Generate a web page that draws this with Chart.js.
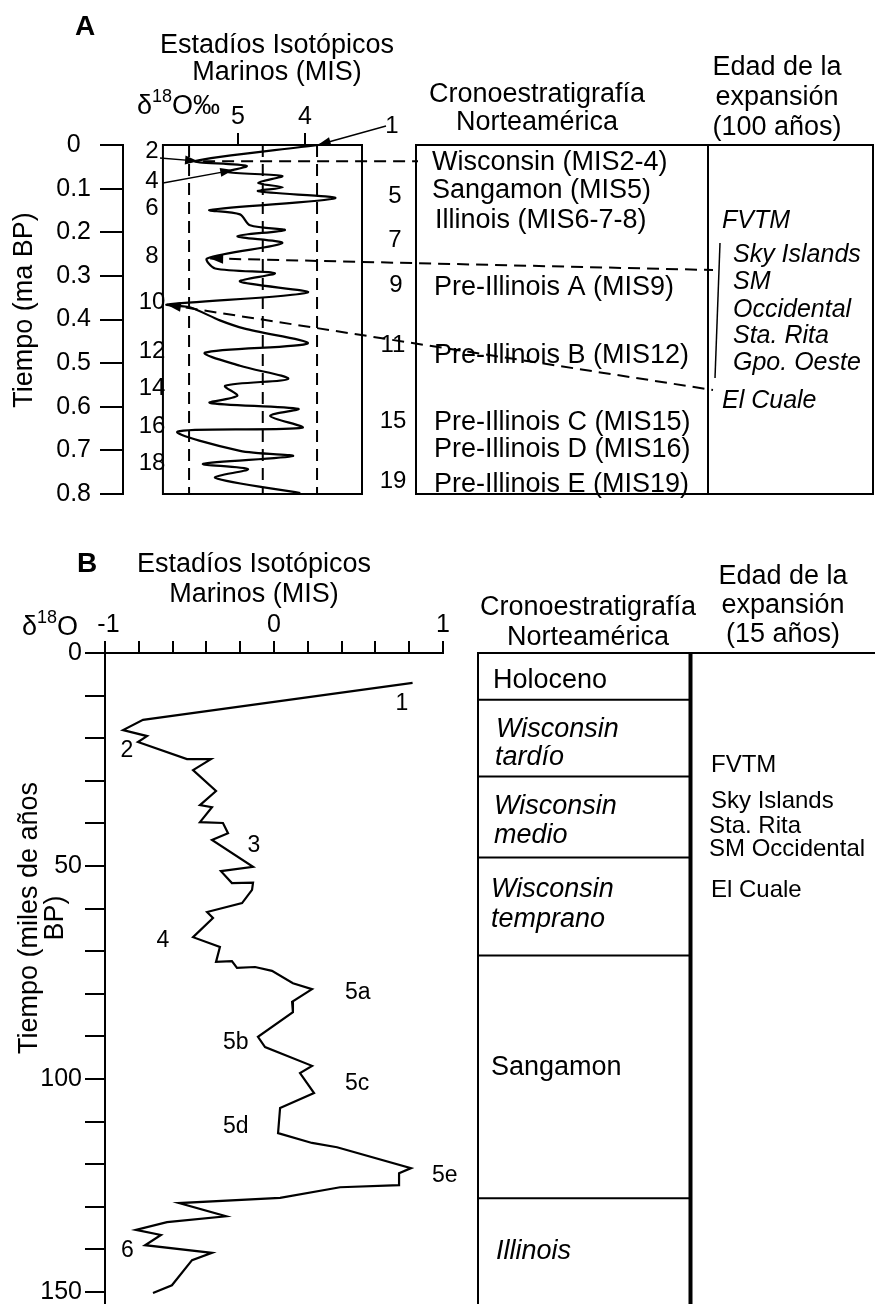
<!DOCTYPE html>
<html>
<head>
<meta charset="utf-8">
<script src="https://cdn.jsdelivr.net/npm/chart.js@4.4.1/dist/chart.umd.min.js"></script>
<style>
  html,body{margin:0;padding:0;background:#fff;overflow:hidden;}
  #wrap{position:relative;width:875px;height:1304px;background:#fff;}
  canvas{position:absolute;left:0;}
</style>
</head>
<body>
<div id="wrap">
  <canvas id="chartA" width="875" height="520" style="top:0px"></canvas>
  <canvas id="chartB" width="875" height="804" style="top:500px"></canvas>
</div>
<script>
// ---------------- DATA ----------------
// Panel A : marine isotope curve (age in Ma, d18O permil)
const AGE_A = [0, 0.037, 0.048, 0.062, 0.071, 0.087, 0.097, 0.106, 0.122, 0.149,
  0.159, 0.184, 0.195, 0.209, 0.225, 0.260, 0.283, 0.294, 0.313, 0.338,
  0.366, 0.372, 0.402, 0.421, 0.455, 0.476, 0.506, 0.536, 0.552, 0.575,
  0.591, 0.605, 0.621, 0.648, 0.657, 0.701, 0.713, 0.731, 0.743, 0.763, 0.798];
const D18O_A = [3.81, 5.64, 4.87, 5.16, 4.34, 4.70, 4.33, 4.70, 3.55, 5.42,
  4.97, 4.82, 4.30, 5.01, 4.34, 5.46, 5.34, 4.45, 4.97, 3.96,
  6.06, 5.72, 5.27, 4.90, 3.96, 5.49, 4.97, 4.25, 5.19, 5.01,
  5.42, 4.10, 4.52, 4.04, 5.90, 4.97, 4.18, 5.52, 4.85, 5.34, 4.07];
const REF_LINES_A = [5.73, 4.63, 3.82];           // dashed reference d18O values
const X_TICKS_A = [5, 4];
const Y_TICKS_A = [0, 0.1, 0.2, 0.3, 0.4, 0.5, 0.6, 0.7, 0.8];
const MIS_EVEN_A = ['2', '4', '6', '8', '10', '12', '14', '16', '18'];
const MIS_ODD_A = ['1', '5', '7', '9', '11', '15', '19'];
const CHRONO_A = ['Wisconsin (MIS2-4)', 'Sangamon (MIS5)', 'Illinois (MIS6-7-8)',
  'Pre-Illinois A (MIS9)', 'Pre-Illinois B (MIS12)', 'Pre-Illinois C (MIS15)',
  'Pre-Illinois D (MIS16)', 'Pre-Illinois E (MIS19)'];
const EXPANSION_A = ['FVTM', 'Sky Islands', 'SM', 'Occidental', 'Sta. Rita', 'Gpo. Oeste', 'El Cuale'];

// Panel B : last glacial cycle (age in ka, d18O)
const AGE_B = [7.0, 15.7, 18.1, 19.5, 20.9, 24.9, 24.9, 27.5, 32.4, 35.7,
  36.2, 39.7, 39.9, 42.3, 43.9, 50.2, 51.2, 54.0, 53.9, 55.6,
  58.7, 60.8, 62.2, 66.7, 69.0, 72.5, 72.3, 73.9, 73.7, 74.6,
  77.5, 78.9, 81.9, 84.3, 90.1, 92.5, 96.9, 98.6, 103.3, 106.8,
  112.7, 115.0, 116.0, 120.9, 122.1, 124.9, 125.4, 127.9, 129.1, 132.2,
  133.6, 135.4, 136.6, 139.0, 140.8, 142.5, 148.4, 150.2];
const D18O_B = [0.82, -0.775, -0.893, -0.751, -0.805, -0.515, -0.373, -0.479, -0.343, -0.438,
  -0.367, -0.438, -0.302, -0.272, -0.367, -0.124, -0.314, -0.249, -0.124, -0.130,
  -0.189, -0.396, -0.361, -0.479, -0.320, -0.343, -0.249, -0.219, -0.112, -0.012,
  0.112, 0.225, 0.107, 0.112, -0.095, -0.053, 0.225, 0.154, 0.237, 0.036,
  0.024, 0.225, 0.373, 0.811, 0.740, 0.740, 0.391, 0.036, -0.562, -0.284,
  -0.633, -0.817, -0.669, -0.763, -0.367, -0.485, -0.604, -0.716];
const X_TICKS_B = [-1, -0.8, -0.6, -0.4, -0.2, 0, 0.2, 0.4, 0.6, 0.8, 1];
const X_LABELS_B = [-1, 0, 1];
const Y_TICKS_B = [0, 10, 20, 30, 40, 50, 60, 70, 80, 90, 100, 110, 120, 130, 140, 150];
const Y_LABELS_B = [0, 50, 100, 150];
const MIS_B = ['1', '2', '3', '4', '5a', '5b', '5c', '5d', '5e', '6'];
const CHRONO_BOUNDS_B = [0, 11, 29, 48, 71, 128];   // ka, row boundaries
const CHRONO_B = ['Holoceno', 'Wisconsin\ntardío', 'Wisconsin\nmedio', 'Wisconsin\ntemprano', 'Sangamon', 'Illinois'];
const EXPANSION_B = ['FVTM', 'Sky Islands', 'Sta. Rita', 'SM Occidental', 'El Cuale'];

// ---------------- HELPERS ----------------
const FONT = "'Liberation Sans', Arial, Helvetica, sans-serif";
Chart.defaults.font.family = FONT;
Chart.defaults.color = '#000';
const FS = 27; // main text size

function txt(ctx, s, x, y, o = {}) {
  const size = o.size || FS;
  ctx.font = (o.italic ? 'italic ' : '') + (o.bold ? 'bold ' : '') + size + 'px ' + FONT;
  ctx.textAlign = o.align || 'left';
  ctx.textBaseline = 'alphabetic';
  ctx.fillStyle = '#000';
  ctx.fillText(s, x, y);
}
function rotTxt(ctx, s, x, y, size) {
  ctx.save();
  ctx.translate(x, y);
  ctx.rotate(-Math.PI / 2);
  txt(ctx, s, 0, 0, {size: size || FS, align: 'center'});
  ctx.restore();
}
function deltaLabel(ctx, x, y, tail) {
  ctx.font = FS + 'px ' + FONT; ctx.textAlign = 'left'; ctx.textBaseline = 'alphabetic'; ctx.fillStyle = '#000';
  ctx.fillText('δ', x, y);
  const w1 = ctx.measureText('δ').width;
  ctx.font = '18px ' + FONT;
  ctx.fillText('18', x + w1, y - 12);
  const w2 = ctx.measureText('18').width;
  ctx.font = FS + 'px ' + FONT;
  ctx.fillText(tail, x + w1 + w2, y);
}
function seg(ctx, x1, y1, x2, y2, w, dash) {
  ctx.save();
  ctx.lineWidth = w || 2;
  ctx.setLineDash(dash || []);
  ctx.strokeStyle = '#000';
  ctx.beginPath(); ctx.moveTo(x1, y1); ctx.lineTo(x2, y2); ctx.stroke();
  ctx.restore();
}
function head(ctx, fromX, fromY, tipX, tipY, len, half) {
  len = len || 13; half = half || 4.5;
  const a = Math.atan2(tipY - fromY, tipX - fromX);
  const bx = tipX - len * Math.cos(a), by = tipY - len * Math.sin(a);
  ctx.save(); ctx.fillStyle = '#000';
  ctx.beginPath();
  ctx.moveTo(tipX, tipY);
  ctx.lineTo(bx + half * Math.sin(a), by - half * Math.cos(a));
  ctx.lineTo(bx - half * Math.sin(a), by + half * Math.cos(a));
  ctx.closePath(); ctx.fill(); ctx.restore();
}
const DASH = [12, 7];

// ---------------- PANEL A ----------------
const A_XMAX = 6.716, A_XMIN = 3.149, A_FRAME_LEFT = 6.12;

const annotA = {
  id: 'annotA',
  afterDraw(chart) {
    const ctx = chart.ctx, xs = chart.scales.x, ys = chart.scales.y, ca = chart.chartArea;
    const P = i => ({x: xs.getPixelForValue(D18O_A[i]), y: ys.getPixelForValue(AGE_A[i])});
    ctx.save();
    ctx.strokeStyle = '#000';
    ctx.lineWidth = 2;
    // plot frame
    const fl = xs.getPixelForValue(A_FRAME_LEFT);
    ctx.strokeRect(fl, ca.top, ca.right - fl, ca.bottom - ca.top);
    // table frame
    ctx.strokeRect(416, ca.top, 292, ca.bottom - ca.top);
    ctx.strokeRect(708, ca.top, 165, ca.bottom - ca.top);

    // titles
    txt(ctx, 'A', 75, 35, {size: 28, bold: true});
    txt(ctx, 'Estadíos Isotópicos', 277, 53, {align: 'center'});
    txt(ctx, 'Marinos (MIS)', 277, 80, {align: 'center'});
    deltaLabel(ctx, 137, 114, 'O‰');
    rotTxt(ctx, 'Tiempo (ma BP)', 32, 310);

    // MIS labels
    const evenY = [158, 188, 215, 263, 309, 358, 395, 433, 470];
    MIS_EVEN_A.forEach((s, i) => txt(ctx, s, 152, evenY[i], {size: 24, align: 'center'}));
    const oddPos = [[392, 133], [395, 203], [395, 247], [396, 292], [393, 352], [393, 428], [393, 488]];
    MIS_ODD_A.forEach((s, i) => txt(ctx, s, oddPos[i][0], oddPos[i][1], {size: 24, align: 'center'}));

    // arrows
    const p1 = P(0), p2 = P(1), p4 = P(3), p8 = P(15), p10 = P(20);
    seg(ctx, 386, 126, p1.x, p1.y, 1.3); head(ctx, 386, 126, p1.x, p1.y);
    seg(ctx, 160, 158, p2.x + 3, p2.y, 1.3); head(ctx, 160, 158, p2.x + 3, p2.y);
    seg(ctx, 163, 183, p4.x + 6, p4.y - 2, 1.3); head(ctx, 163, 183, p4.x + 6, p4.y - 2);
    // dashed connectors
    seg(ctx, p2.x + 8, p2.y, 418, p2.y, 2, DASH);
    seg(ctx, p8.x + 3, p8.y, 713, 270, 2, DASH); head(ctx, 713, 270, p8.x + 3, p8.y, 13, 5);
    seg(ctx, p10.x, p10.y, 713, 390, 2, DASH); head(ctx, 713, 390, p10.x, p10.y, 14, 5);

    // chrono table
    txt(ctx, 'Cronoestratigrafía', 537, 102, {align: 'center'});
    txt(ctx, 'Norteamérica', 537, 130, {align: 'center'});
    txt(ctx, 'Edad de la', 777, 75, {align: 'center'});
    txt(ctx, 'expansión', 777, 105, {align: 'center'});
    txt(ctx, '(100 años)', 777, 135, {align: 'center'});
    const chronoPos = [[432, 170], [432, 198], [435, 228], [434, 295], [434, 363], [434, 430], [434, 457], [434, 492]];
    CHRONO_A.forEach((s, i) => txt(ctx, s, chronoPos[i][0], chronoPos[i][1]));
    const expPos = [[722, 228], [733, 262], [733, 289], [733, 317], [733, 343], [733, 370], [722, 408]];
    EXPANSION_A.forEach((s, i) => txt(ctx, s, expPos[i][0], expPos[i][1], {size: 25, italic: true}));
    seg(ctx, 720, 243, 715, 378, 1.5);
    ctx.restore();
  }
};

const refDatasetsA = REF_LINES_A.map(v => ({
  data: [{x: v, y: 0}, {x: v, y: 0.8}],
  showLine: true, borderColor: '#000', borderWidth: 2, borderDash: DASH,
  pointRadius: 0, tension: 0
}));

new Chart(document.getElementById('chartA'), {
  type: 'scatter',
  data: {
    datasets: [{
      data: AGE_A.map((a, i) => ({x: D18O_A[i], y: a})),
      showLine: true, borderColor: '#000', borderWidth: 2.2, pointRadius: 0,
      tension: 0.3, clip: false
    }].concat(refDatasetsA)
  },
  options: {
    responsive: false, maintainAspectRatio: false, animation: false, devicePixelRatio: 1,
    events: [],
    layout: {padding: {left: 0, top: 85, right: 513, bottom: 26}},
    plugins: {legend: {display: false}, tooltip: {enabled: false}, title: {display: false}},
    scales: {
      x: {
        type: 'linear', position: 'top', reverse: true, min: A_XMIN, max: A_XMAX,
        afterBuildTicks: s => { s.ticks = X_TICKS_A.map(v => ({value: v})); },
        afterFit: s => { s.height = 60; s.paddingLeft = 0; s.paddingRight = 0; },
        ticks: {font: {size: 25}, color: '#000', padding: 1, maxRotation: 0, autoSkip: false},
        grid: {drawOnChartArea: false, drawTicks: true, tickLength: 12, lineWidth: 2, color: '#000'},
        border: {display: false}
      },
      y: {
        type: 'linear', reverse: true, min: 0, max: 0.8,
        afterBuildTicks: s => { s.ticks = Y_TICKS_A.map(v => ({value: v})); },
        afterFit: s => { s.width = 123; s.paddingTop = 0; s.paddingBottom = 0; },
        ticks: {font: {size: 25}, color: '#000', padding: 9, autoSkip: false, crossAlign: 'center',
          callback: v => String(Math.round(v * 10) / 10)},
        grid: {drawOnChartArea: false, drawTicks: true, tickLength: 23, lineWidth: 2, color: '#000'},
        border: {display: true, width: 2, color: '#000'}
      }
    }
  },
  plugins: [annotA]
});

// ---------------- PANEL B ----------------
const OB = 500; // canvas offset in page
const annotB = {
  id: 'annotB',
  afterDraw(chart) {
    const ctx = chart.ctx, ys = chart.scales.y, ca = chart.chartArea;
    ctx.save();
    ctx.translate(0, -OB);  // draw in page coordinates
    const Y = v => ys.getPixelForValue(v) + OB;
    const bottom = ca.bottom + OB + 5;

    txt(ctx, 'B', 77, 572, {size: 28, bold: true});
    txt(ctx, 'Estadíos Isotópicos', 254, 572, {align: 'center'});
    txt(ctx, 'Marinos (MIS)', 254, 602, {align: 'center'});
    deltaLabel(ctx, 22, 635, 'O');
    rotTxt(ctx, 'Tiempo (miles de años', 37, 918);
    rotTxt(ctx, 'BP)', 63, 918);

    const misPos = [[402, 710, 'center'], [127, 757, 'center'], [254, 852, 'center'], [163, 947, 'center'],
      [345, 999, 'left'], [223, 1049, 'left'], [345, 1090, 'left'], [223, 1133, 'left'], [432, 1182, 'left'], [121, 1257, 'left']];
    MIS_B.forEach((s, i) => txt(ctx, s, misPos[i][0], misPos[i][1], {size: 23, align: misPos[i][2]}));

    // headers
    txt(ctx, 'Cronoestratigrafía', 588, 615, {align: 'center'});
    txt(ctx, 'Norteamérica', 588, 645, {align: 'center'});
    txt(ctx, 'Edad de la', 783, 584, {align: 'center'});
    txt(ctx, 'expansión', 783, 613, {align: 'center'});
    txt(ctx, '(15 años)', 783, 642, {align: 'center'});

    // table structure from the age scale
    const top = Y(CHRONO_BOUNDS_B[0]);
    seg(ctx, 478, top, 478, bottom, 2);
    seg(ctx, 690.5, top - 1, 690.5, bottom, 4);
    CHRONO_BOUNDS_B.forEach(b => seg(ctx, 477, Y(b), 690, Y(b), 2));
    seg(ctx, 690, top, 875, top, 2);

    // row texts
    const rowPos = [
      [[493, 688, false]],
      [[496, 737, true], [495, 765, true]],
      [[494, 814, true], [494, 843, true]],
      [[491, 897, true], [491, 927, true]],
      [[491, 1075, false]],
      [[496, 1259, true]]
    ];
    CHRONO_B.forEach((s, i) => {
      s.split('\n').forEach((ln, j) => {
        const p = rowPos[i][j];
        txt(ctx, ln, p[0], p[1], {italic: p[2]});
      });
    });
    const expPos = [[711, 772], [711, 808], [709, 833], [709, 856], [711, 897]];
    EXPANSION_B.forEach((s, i) => txt(ctx, s, expPos[i][0], expPos[i][1], {size: 24}));
    ctx.restore();
  }
};

new Chart(document.getElementById('chartB'), {
  type: 'scatter',
  data: {
    datasets: [{
      data: AGE_B.map((a, i) => ({x: D18O_B[i], y: a})),
      showLine: true, borderColor: '#000', borderWidth: 2.2, pointRadius: 0,
      tension: 0, clip: false
    }]
  },
  options: {
    responsive: false, maintainAspectRatio: false, animation: false, devicePixelRatio: 1,
    events: [],
    layout: {padding: {left: 0, top: 113, right: 432, bottom: 0}},
    plugins: {legend: {display: false}, tooltip: {enabled: false}, title: {display: false}},
    scales: {
      x: {
        type: 'linear', position: 'top', min: -1, max: 1,
        afterBuildTicks: s => { s.ticks = X_TICKS_B.map(v => ({value: v})); },
        afterFit: s => { s.height = 40; s.paddingLeft = 0; s.paddingRight = 0; },
        ticks: {font: {size: 25}, color: '#000', padding: 1, maxRotation: 0, autoSkip: false,
          callback: v => X_LABELS_B.some(l => Math.abs(l - v) < 1e-6) ? (v < 0 ? ' ' : '') + String(Math.round(v)) : ''},
        grid: {drawOnChartArea: false, drawTicks: true, tickLength: 12, lineWidth: 2, color: '#000'},
        border: {display: true, width: 2, color: '#000'}
      },
      y: {
        type: 'linear', reverse: true, min: 0, max: 152.8,
        afterBuildTicks: s => { s.ticks = Y_TICKS_B.map(v => ({value: v})); },
        afterFit: s => { s.width = 105; s.paddingTop = 0; s.paddingBottom = 0; },
        ticks: {font: {size: 25}, color: '#000', padding: 3, autoSkip: false,
          callback: v => Y_LABELS_B.includes(v) ? String(v) : ''},
        grid: {drawOnChartArea: false, drawTicks: true, tickLength: 20, lineWidth: 2, color: '#000'},
        border: {display: true, width: 2, color: '#000'}
      }
    }
  },
  plugins: [annotB]
});
</script>
</body>
</html>
